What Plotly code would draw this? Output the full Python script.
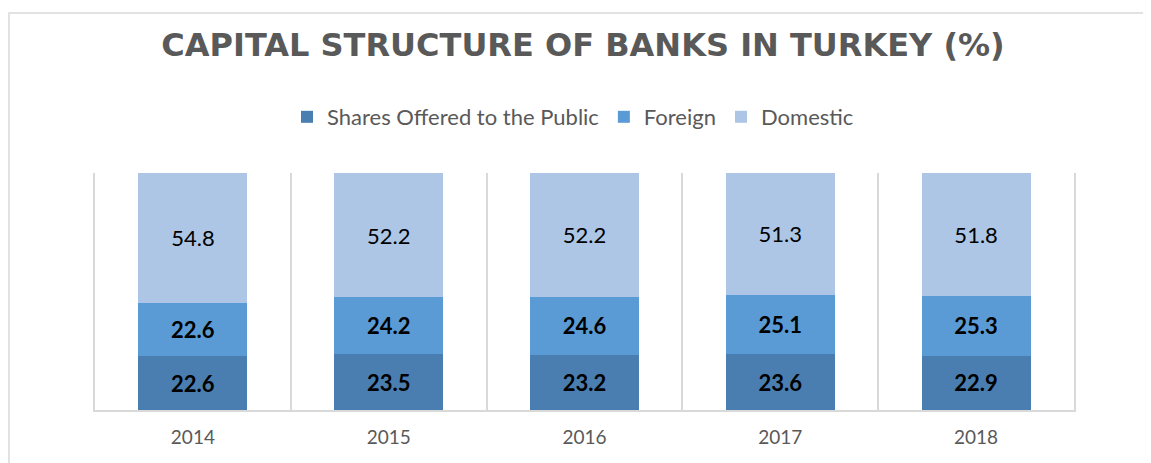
import plotly.graph_objects as go

years = ["2014", "2015", "2016", "2017", "2018"]
shares_public = [22.6, 23.5, 23.2, 23.6, 22.9]
foreign = [22.6, 24.2, 24.6, 25.1, 25.3]
domestic = [54.8, 52.2, 52.2, 51.3, 51.8]

series = [
    ("Shares Offered to the Public", shares_public, "#4A7EB0", "<b>%{y:.1f}</b>"),
    ("Foreign", foreign, "#5B9BD5", "<b>%{y:.1f}</b>"),
    ("Domestic", domestic, "#ADC6E6", "%{y:.1f}"),
]

fig = go.Figure()
for name, vals, color, tmpl in series:
    fig.add_trace(go.Bar(
        x=years, y=vals, name=name,
        marker=dict(color=color, line=dict(width=0)),
        texttemplate=tmpl, textposition="inside", insidetextanchor="middle",
        textangle=0,
        textfont=dict(color="#000000", size=22, family="Lato"),
    ))

# page body has an 8px margin: figure coords = screen coords - 8
OFF = 8
W, H = 1151, 463
L, T = 95 - OFF, 173 - OFF
R, B = W - (1074 - OFF), H - (410 - OFF)
pw, ph = W - L - R, H - T - B

fig.update_layout(
    barmode="stack",
    bargap=0.443,
    width=W, height=H,
    margin=dict(l=L, r=R, t=T, b=B, autoexpand=False),
    paper_bgcolor="white", plot_bgcolor="white",
    font=dict(family="Lato", color="#595959"),
    title=dict(
        text="<b>CAPITAL STRUCTURE OF BANKS IN TURKEY (%)</b>",
        x=(583 - OFF) / W, xanchor="center", xref="container",
        y=1 - (45 - OFF) / H, yanchor="middle", yref="container",
        font=dict(family="DejaVu Sans", size=32, color="#595959"),
    ),
    legend=dict(
        orientation="h", x=(573 - OFF) / W, xanchor="center", xref="container",
        y=1 - (117 - OFF) / H, yanchor="middle", yref="container",
        font=dict(size=22, color="#595959", family="Lato"),
        traceorder="normal", itemclick=False,
    ),
    xaxis=dict(
        type="category", tickson="boundaries", showgrid=True,
        gridcolor="#D9D9D9", gridwidth=1.5,
        showline=True, linecolor="#D9D9D9", linewidth=1.5,
        ticks="", tickfont=dict(size=19, color="#595959", family="Lato"),
        ticklabelstandoff=9,
        fixedrange=True, automargin=False,
    ),
    yaxis=dict(range=[0, 100], showgrid=False, zeroline=False,
               showticklabels=False, showline=True, mirror=True,
               linecolor="#D9D9D9", linewidth=1.5,
               fixedrange=True, automargin=False),
    showlegend=True,
)

# outer chart border (partially visible in the reference)
fig.add_shape(type="rect", xref="paper", yref="paper",
              x0=(9 - OFF - L) / pw, x1=(W + 20 - L) / pw,
              y0=-1, y1=(H - B - (13 - OFF)) / ph,
              line=dict(color="#D9D9D9", width=1.5), layer="below")

fig.write_html("out.html")
